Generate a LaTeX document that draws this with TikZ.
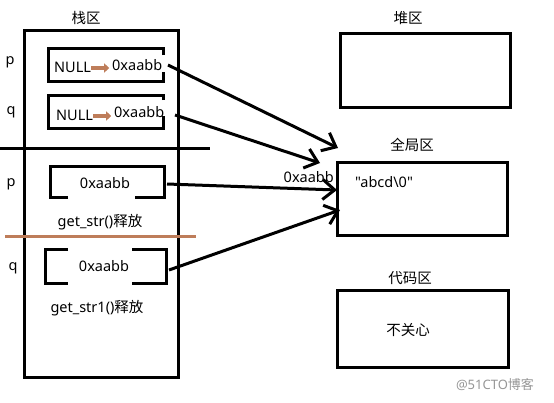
\documentclass[tikz,border=0pt]{standalone}
\usepackage{fontspec}
\setmainfont{Noto Sans}
\newfontfamily\cjk{Noto Sans CJK SC}
\newfontfamily\qfont{Noto Sans}[Ligatures=ResetAll]
\usetikzlibrary{arrows.meta}
\definecolor{brownline}{RGB}{190,125,90}
\definecolor{wm}{RGB}{150,150,150}
\tikzset{
  box/.style={line width=3pt},
  lbl/.style={inner sep=0pt,font=\fontsize{14.5}{16}\selectfont},
  ptr/.style={line width=3pt,-{Straight Barb[length=12pt,width=20pt,line width=3pt]}},
  mini/.style={line width=4.5pt,brownline,-{Triangle[length=5pt,width=9pt]}},
}
\begin{document}
\begin{tikzpicture}[x=1pt,y=-1pt]
\useasboundingbox (0,0) rectangle (554,402);
% stack frame
\draw[box] (24,30) rectangle (178,377);
\node[lbl] (stt) at (86,18) {\cjk 栈区};
% separators
\draw[line width=3pt] (0,148) -- (210,148);
\draw[line width=3pt,brownline] (5,236) -- (196,236);
% p1 box
\draw[box] (163,55) -- (163,48) -- (48,48) -- (48,81) -- (163,81) -- (163,72);
\node[lbl,anchor=west] (n1) at (54,67) {NULL};
\node[lbl,anchor=west] (a1) at (112,65) {0xaabb};
\draw[mini] (n1.east) ++(0,1) -- ++(18,0);
% q1 box
\draw[box] (163,100) -- (163,95) -- (48,95) -- (48,128) -- (163,128) -- (163,116);
\node[lbl,anchor=west] (n2) at (56,115) {NULL};
\node[lbl,anchor=west] (a2) at (114,112) {0xaabb};
\draw[mini] (n2.east) ++(0,1) -- ++(18,0);
% labels p q
\node[lbl] (p1) at (10,62) {p};
\node[lbl] (q1) at (11,112) {q};
\node[lbl] (p2) at (11,184) {p};
\node[lbl] (q2) at (13,268) {q};
% p2 box
\draw[box] (68,197) -- (50,197) -- (50,166) -- (164,166) -- (164,197) -- (135,197);
\node[lbl] (a3) at (105,183) {0xaabb};
\node[lbl] (g1) at (100,222) {get\_str()\cjk 释放};
% q2 box
\draw[box] (68,249) -- (45,249) -- (45,283) -- (68,283);
\draw[box] (132,249) -- (166,249) -- (166,283) -- (132,283);
\node[lbl] (a4) at (104,266) {0xaabb};
\node[lbl] (g2) at (97,308) {get\_str1()\cjk 释放};
% right boxes
\node[lbl] (ht) at (408,18) {\cjk 堆区};
\draw[box] (340,33) rectangle (510,107);
\node[lbl] (gt) at (412,145) {\cjk 全局区};
\draw[box] (337,162) rectangle (507,235);
\node[lbl] (str) at (384,182) {\qfont "abcd\textbackslash0"};
\node[lbl] (ct) at (410,278) {\cjk 代码区};
\draw[box] (337,290) rectangle (508,367);
\node[lbl] (bg) at (408,330) {\cjk 不关心};
\node[lbl,anchor=east] (addr) at (334,177) {0xaabb};
\node[inner sep=0pt,text=wm,font=\fontsize{13}{15}\selectfont] (wmk) at (495,385) {@51CTO{\cjk 博客}};
% pointer arrows
\coordinate (s1) at (168,65);
\coordinate (e1) at (338,148);
\coordinate (s2) at (175,115);
\coordinate (e2) at (320,163);
\coordinate (s3) at (167,184);
\coordinate (e3) at (337,190);
\coordinate (s4) at (169,270);
\coordinate (e4) at (340,210);
\draw[ptr] (s1) -- (e1);
\draw[ptr] (s2) -- (e2);
\draw[ptr] (s3) -- (e3);
\draw[ptr] (s4) -- (e4);
\end{tikzpicture}
\end{document}
